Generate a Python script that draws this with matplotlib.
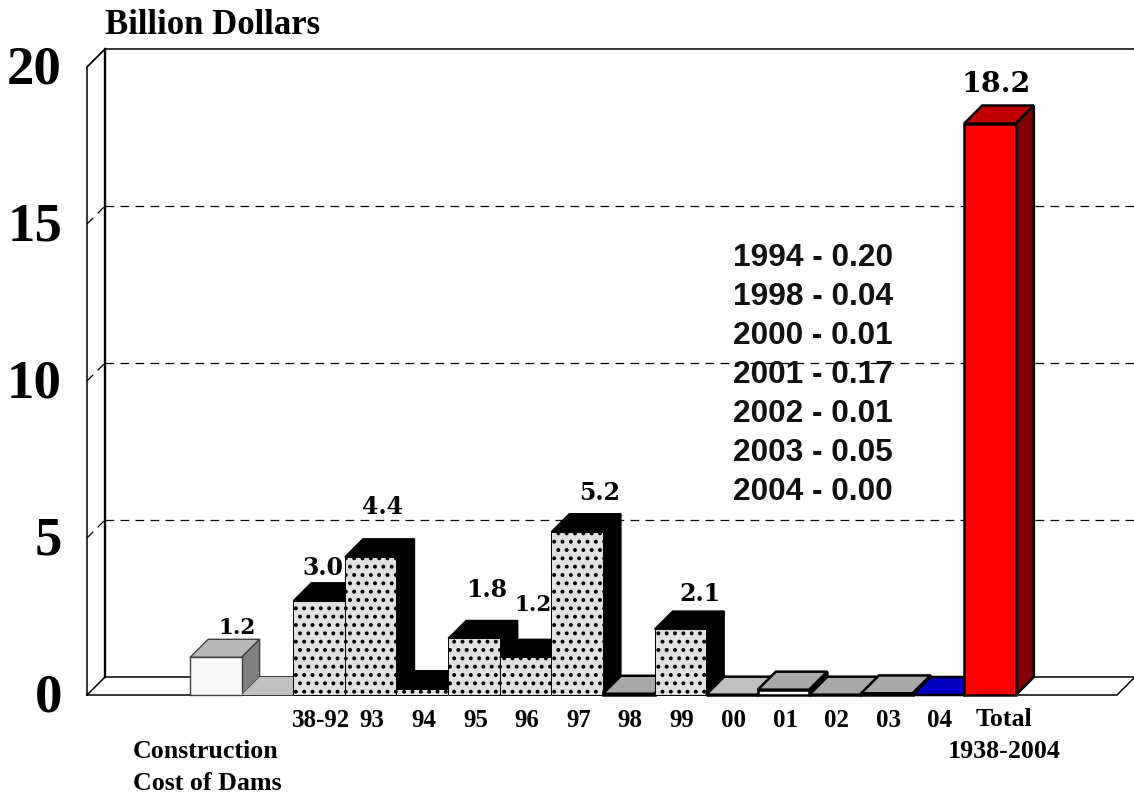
import matplotlib
matplotlib.use("Agg")
import matplotlib.pyplot as plt
from matplotlib.patches import Polygon
from matplotlib.transforms import ScaledTranslation

# one slot per column, the second slot is the empty gray one after the dams
labels = ["", "", "38-92", "93", "94", "95", "96", "97", "98", "99", "00", "01", "02", "03", "04", ""]
values = [1.2, 0.0, 3.0, 4.4, 0.20, 1.8, 1.2, 5.2, 0.04, 2.1, 0.01, 0.17, 0.01, 0.05, 0.0, 18.2]
shown = ["1.2", "", "3.0", "4.4", "", "1.8", "1.2", "5.2", "", "2.1", "", "", "", "", "", "18.2"]

small_years = ["1994", "1998", "2000", "2001", "2002", "2003", "2004"]
small_values = ["0.20", "0.04", "0.01", "0.17", "0.01", "0.05", "0.00"]

yticks = [0, 5, 10, 15, 20]

SERIF = "Liberation Serif"
W, H = 1134, 794
DOTS = ("#e0e0e0", "black", "black", "..")
GRAY = ("white", "#a8a8a8", "black", None)

# front, top, side, hatch
styles = [("#f8f8f8", "#b8b8b8", "#808080", None),
          ("#c0c0c0", "#c0c0c0", "#c0c0c0", None),
          DOTS, DOTS, DOTS, DOTS, DOTS, DOTS,
          ("#a8a8a8", "#a8a8a8", "#a8a8a8", None),
          DOTS,
          ("#c0c0c0", "#c0c0c0", "#c0c0c0", None),
          GRAY, GRAY, GRAY,
          ("#0000c0", "#0000c0", "#0000c0", None),
          ("#ff0000", "#c00000", "#800000", None)]

# label nudges in pixels, right and up from the back top corner of the column
nudge = {0: (3, 11), 2: (-14, 15), 3: (-6, 32), 5: (-5, 30), 6: (-10, 34), 7: (4, 21), 9: (2, 17), 15: (-12, 21)}

plt.rcParams["hatch.linewidth"] = 1.6

fig = plt.figure(figsize=(W / 100, H / 100), dpi=100)
ax = fig.add_axes([87 / W, (H - 695) / H, (1117 - 87) / W, (695 - 67) / H])
ax.set_xlim(-2.496, 17.46)
ax.set_ylim(0, 20)
ax.patch.set_visible(False)
for s in ax.spines.values():
    s.set_visible(False)

dx = 18 / 51.6
dy = 18 / 31.4
left = -2.496
right = 17.46

# walls and floor
ax.plot([left, left, left + dx, left + dx, left], [0, 20, 20 + dy, dy, 0], color="black", lw=1.1, clip_on=False)
ax.plot([left + dx, left + dx], [dy, 20 + dy], color="black", lw=1.7, clip_on=False)
ax.plot([left, right, right + dx, left + dx], [0, 0, dy, dy], color="black", lw=1.1, clip_on=False)
ax.plot([left + dx, right + dx], [20 + dy, 20 + dy], color="black", lw=1.1, clip_on=False)
for t in yticks[1:]:
    if t < 20:
        ax.plot([left + dx, right + dx], [t + dy, t + dy], color="black", lw=0.9, ls=(0, (7, 5)), clip_on=False)
    ax.plot([left, left + dx], [t, t + dy], color="black", lw=0.9, ls=(0, (7, 5)) if t < 20 else "-", clip_on=False)

# columns, left to right so later fronts cover earlier sides
for i, v in enumerate(values):
    front, top, side, hatch = styles[i]
    x0 = i - 0.5
    x1 = i + 0.5
    heavy = i >= 8 and hatch is None
    lw = 1.8 if heavy else 1.0
    edge = "black" if heavy or hatch else "#404040"
    z = 3 + i
    if i == 1:
        lw = 0
    ax.add_patch(Polygon([(x0, v), (x1, v), (x1 + dx, v + dy), (x0 + dx, v + dy)], closed=True,
                         fc=top, ec=edge, lw=lw, zorder=z, clip_on=False))
    ax.add_patch(Polygon([(x1, 0), (x1 + dx, dy), (x1 + dx, v + dy), (x1, v)], closed=True,
                         fc=side, ec=edge, lw=lw, zorder=z, clip_on=False))
    if v > 0:
        ax.bar(i, v, width=1.0, color=front, edgecolor=edge, hatch=hatch,
               linewidth=0.7 if hatch else lw, zorder=z + 0.5, clip_on=False)
    if shown[i]:
        size = 20.5 if i == 15 else (15.5 if shown[i] == "1.2" else 17)
        ax.annotate(shown[i], (x0 + dx + 0.5, v + dy), xytext=nudge[i], textcoords="offset pixels",
                    ha="center", va="center", family="DejaVu Serif", weight="bold", fontsize=size,
                    annotation_clip=False, zorder=40)

# axis labels
ax.set_yticks(yticks)
ax.set_yticklabels([str(t) for t in yticks], family=SERIF, weight="bold", fontsize=39.5)
ticks = [i for i, s in enumerate(labels) if s]
ax.set_xticks([i + 0.03 for i in ticks])
ax.set_xticklabels([labels[i] for i in ticks], family=SERIF, weight="bold", fontsize=18)
ax.tick_params(axis="y", length=0, pad=18)
ax.tick_params(axis="x", length=0, pad=10.3)
up = ScaledTranslation(0, 1.5 / 72, fig.dpi_scale_trans)
for lab in ax.get_yticklabels():
    lab.set_transform(lab.get_transform() + up)

fig.text(105 / W, 1 - 25 / H, "Billion Dollars", family=SERIF, weight="bold", fontsize=25, va="center")
fig.text(133 / W, 1 - 752 / H, "Construction", family=SERIF, weight="bold", fontsize=18.7, va="center")
fig.text(133 / W, 1 - 784 / H, "Cost of Dams", family=SERIF, weight="bold", fontsize=18.7, va="center")
fig.text(1004 / W, 1 - 720 / H, "Total", family=SERIF, weight="bold", fontsize=18.7, va="center", ha="center")
fig.text(1004 / W, 1 - 752 / H, "1938-2004", family=SERIF, weight="bold", fontsize=18.7, va="center", ha="center")

# small amounts listed by year
for k, (year, val) in enumerate(zip(small_years, small_values)):
    fig.text(733 / W, 1 - (258 + 39 * k) / H, year + " - " + val, family="Liberation Sans", weight="bold",
             fontsize=22.8, va="center", color="#111111")

fig.savefig("out.png", dpi=100)
